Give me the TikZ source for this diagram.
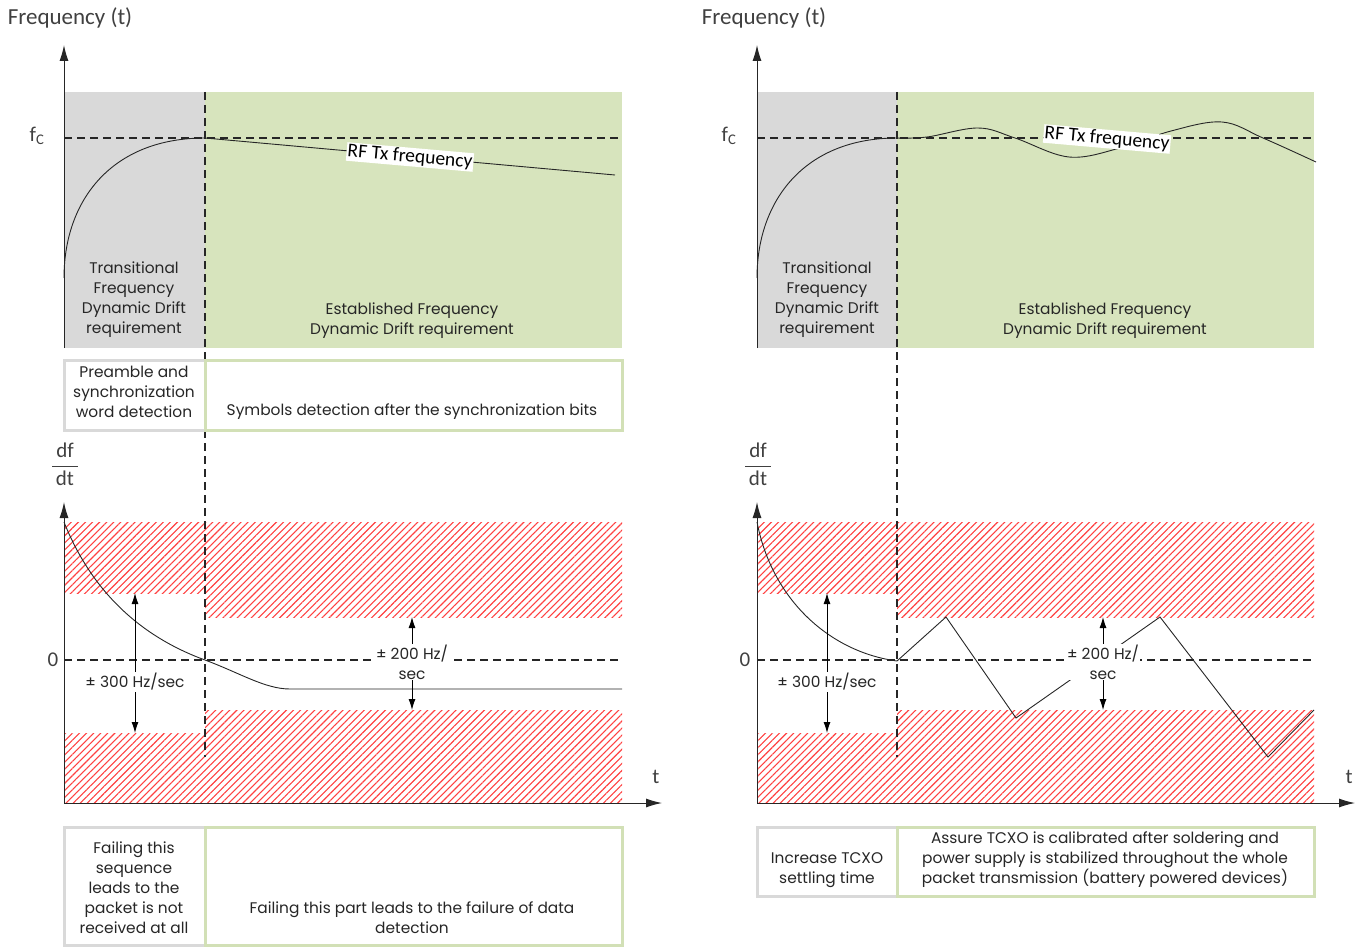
\documentclass[tikz,border=0pt]{standalone}
\usepackage{fontspec}
\setmainfont{Poppins}
\newfontfamily\calib{Carlito}
\usetikzlibrary{arrows.meta,patterns.meta}

\definecolor{grayfill}{HTML}{D9D9D9}
\definecolor{greenfill}{HTML}{D7E4BD}
\definecolor{greenedge}{HTML}{D2E0B6}
\definecolor{labelgray}{HTML}{404040}

\tikzset{
  lbl/.style={font=\fontsize{15.4}{20}\selectfont, align=center, text=black!85},
  cal/.style={font=\calib\fontsize{21}{24}\selectfont, text=labelgray},
  title/.style={font=\calib\fontsize{23}{26}\selectfont, text=labelgray},
  rflabel/.style={font=\calib\fontsize{19.5}{22}\selectfont, fill=white, inner sep=1pt, rotate=-5},
  hatch/.style={pattern={Lines[angle=45,distance=5pt,line width=1.1pt]}, pattern color=red!75},
  axis/.style={-{Latex[length=16pt,width=9pt]}, line width=1pt, black!85},
  tol/.style={{Latex[length=11pt,width=7pt]}-{Latex[length=11pt,width=7pt]}, line width=0.9pt},
  guide/.style={dash pattern=on 8pt off 5pt, line width=1.1pt, black!85},
  curve/.style={line width=0.9pt, black!85},
  greybox/.style={draw=grayfill, line width=3pt, fill=white},
  greenbox/.style={draw=greenedge, line width=3pt, fill=white},
}

\begin{document}
\begin{tikzpicture}[x=1pt,y=-1pt]
  \useasboundingbox (0,0) rectangle (1362,947);

  % ---------- left panel ----------
  % frequency chart areas
  \fill[grayfill] (64,92) rectangle (205,348);
  \fill[greenfill] (205,92) rectangle (622,348);
  \node[title] (freqL) at (70,18) {Frequency (t)};
  \node[cal] (fcL) at (37,136) {f\textsubscript{C}};
  \draw[guide] (64,138) -- (622,138);
  \draw[curve] (64,278) .. controls (64,200) and (112,138) .. (205,138) -- (615,175);
  \node[rflabel] (rfL) at (410,157) {RF Tx frequency};
  \node[lbl] (transL) at (134,300) {Transitional\\Frequency\\Dynamic Drift\\requirement};
  \node[lbl] (estL) at (412,321) {Established Frequency\\Dynamic Drift requirement};
  \draw[axis] (64,348) -- (64,45);

  % forbidden drift zones
  \fill[hatch] (64,522) rectangle (205,593);
  \fill[hatch] (64,733) rectangle (205,803);
  \fill[hatch] (205,522) rectangle (622,617);
  \fill[hatch] (205,710) rectangle (622,803);

  % divider
  \draw[guide] (205,92) -- (205,757);

  % detection boxes
  \draw[greybox] (64,360) rectangle (205,430);
  \draw[greenbox] (205,360) rectangle (622,430);
  \node[lbl] (preL) at (134,392) {Preamble and\\synchronization\\word detection};
  \node[lbl] (symL) at (412,412) {Symbols detection after the synchronization bits};

  % drift chart
  \node[cal] (dfdtL) at (65,464) {$\displaystyle\frac{\mbox{\,df\,}}{\mbox{\,dt\,}}$};
  \node[cal] (zeroL) at (53,660) {0};
  \node[cal] (tL) at (656,777) {t};
  \draw[guide] (64,660) -- (622,660);
  \draw[curve] (64,522) .. controls (95,600) and (150,640) .. (205,660)
    .. controls (240,673) and (265,689) .. (290,689) -- (622,689);
  \draw[axis] (64,803) -- (64,502);
  \draw[axis] (64,803) -- (662,803);

  % tolerances
  \coordinate (t300topL) at (135,593);
  \coordinate (t300botL) at (135,733);
  \draw[tol] (t300topL) -- (t300botL);
  \node[lbl, fill=white, inner sep=1pt] (t300L) at (135,682) {± 300 Hz/sec};
  \coordinate (t200topL) at (412,617);
  \coordinate (t200botL) at (412,710);
  \draw[tol] (t200topL) -- (t200botL);
  \node[lbl, fill=white, inner sep=1pt] (t200L) at (412,662) {± 200 Hz/\\sec};

  % consequence boxes
  \draw[greybox] (64,827) rectangle (205,945);
  \draw[greenbox] (205,827) rectangle (622,945);
  \node[lbl] (failseqL) at (134,888) {Failing this\\sequence\\leads to the\\packet is not\\received at all};
  \node[lbl] (failpartL) at (412,918) {Failing this part leads to the failure of data\\detection};

  % ---------- right panel ----------
  \fill[grayfill] (757,92) rectangle (897,348);
  \fill[greenfill] (897,92) rectangle (1314,348);
  \node[title] (freqR) at (764,18) {Frequency (t)};
  \node[cal] (fcR) at (729,136) {f\textsubscript{C}};
  \draw[guide] (757,138) -- (1314,138);
  \draw[curve] (757,278) .. controls (757,200) and (805,138) .. (897,138);
  \draw[curve] plot[smooth, tension=0.6] coordinates {(897,138) (927,137) (978,128) (1015,138)
    (1069,157) (1120,148) (1171,131) (1222,122) (1263,138) (1316,162)};
  \node[rflabel] (rfR) at (1107,139) {RF Tx frequency};
  \node[lbl] (transR) at (827,300) {Transitional\\Frequency\\Dynamic Drift\\requirement};
  \node[lbl] (estR) at (1105,321) {Established Frequency\\Dynamic Drift requirement};
  \draw[axis] (757,348) -- (757,45);

  % forbidden drift zones
  \fill[hatch] (757,522) rectangle (897,593);
  \fill[hatch] (757,733) rectangle (897,803);
  \fill[hatch] (897,522) rectangle (1314,617);
  \fill[hatch] (897,710) rectangle (1314,803);

  % divider
  \draw[guide] (897,92) -- (897,757);

  % drift chart
  \node[cal] (dfdtR) at (758,464) {$\displaystyle\frac{\mbox{\,df\,}}{\mbox{\,dt\,}}$};
  \node[cal] (zeroR) at (745,660) {0};
  \node[cal] (tR) at (1349,777) {t};
  \draw[guide] (757,660) -- (1314,660);
  \draw[curve] (757,522) .. controls (772,600) and (830,652) .. (897,661);
  \draw[curve] (897,661) -- (946,617) -- (1016,718) -- (1160,617) -- (1268,757) -- (1314,710);
  \draw[axis] (757,803) -- (757,502);
  \draw[axis] (757,803) -- (1355,803);

  % tolerances
  \coordinate (t300topR) at (827,593);
  \coordinate (t300botR) at (827,733);
  \draw[tol] (t300topR) -- (t300botR);
  \node[lbl, fill=white, inner sep=1pt] (t300R) at (827,682) {± 300 Hz/sec};
  \coordinate (t200topR) at (1103,617);
  \coordinate (t200botR) at (1103,710);
  \draw[tol] (t200topR) -- (t200botR);
  \node[lbl, fill=white, inner sep=1pt] (t200R) at (1103,662) {± 200 Hz/\\sec};

  % remedy boxes
  \draw[greybox] (757,827) rectangle (897,896);
  \draw[greenbox] (897,827) rectangle (1314,896);
  \node[lbl] (tcxoR) at (827,870) {Increase TCXO\\settling time};
  \node[lbl] (calibR) at (1105,860) {Assure TCXO is calibrated after soldering and\\power supply is stabilized throughout the whole\\packet transmission (battery powered devices)};
\end{tikzpicture}
\end{document}
